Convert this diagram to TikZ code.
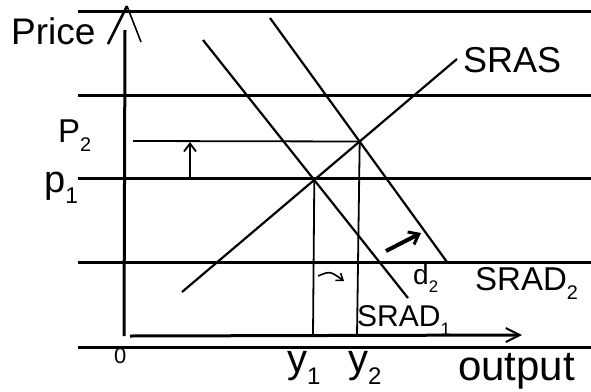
\documentclass[tikz,border=0pt]{standalone}
\usepackage{fontspec}
\setmainfont{Liberation Sans}
\usetikzlibrary{arrows.meta}
\newcommand{\lowsub}[1]{\raisebox{-0.3em}{\scalebox{0.6}{#1}}}
\newcommand{\bigtxt}[2]{\scalebox{#1}{\fontsize{10}{12}\selectfont #2}}
\tikzset{
  ruled/.style={line width=3pt},
  axisline/.style={line width=3pt},
  curve/.style={line width=2.2pt},
  guide/.style={line width=1.8pt},
  lbl/.style={inner sep=0pt, anchor=base west},
  barb/.style={-{Straight Barb[length=8pt,width=12pt,line width=1.8pt]}},
}
\begin{document}
\begin{tikzpicture}[x=1pt,y=-1pt]
\useasboundingbox (0,0) rectangle (591,391);
\fill[white] (0,0) rectangle (591,391);
% ruled lines of the paper
\foreach \yy [count=\i] in {11,95,178,262,347}{
  \coordinate (rl\i) at (78,\yy);
  \coordinate (rr\i) at (591,\yy);
  \draw[ruled] (rl\i) -- (rr\i);
}
% axes
\coordinate (O) at (124,336);
\coordinate (ytop) at (125,30);
\coordinate (yapex) at (127,6);
\coordinate (yl) at (108,44);
\coordinate (yr) at (141,42);
\coordinate (xs) at (130,336);
\coordinate (xend) at (522,335);
\draw[axisline] (O) -- (ytop);
\draw[line width=2.6pt] (yl) -- (yapex);
\draw[line width=1.6pt] (yapex) -- (yr);
\draw[axisline, -{Straight Barb[length=14pt,width=14pt,line width=2pt]}] (xs) -- (xend);
% curves
\coordinate (sA) at (182,292);
\coordinate (sB) at (457,59);
\coordinate (d1a) at (203,40);
\coordinate (d1b) at (408,298);
\coordinate (d2a) at (270,18);
\coordinate (d2b) at (447,262);
\coordinate (E1) at (314.3,179.9);
\coordinate (E2) at (359.7,141.5);
\coordinate (p2l) at (133,141);
\coordinate (y1b) at (313,336);
\coordinate (y2b) at (357,336);
\draw[curve] (sA) -- (sB);
\draw[curve] (d1a) -- (d1b);
\draw[curve] (d2a) -- (d2b);
\draw[guide] (p2l) -- (E2);
\draw[guide] (E1) -- (y1b);
\draw[guide] (E2) -- (y2b);
% arrows
\coordinate (ua) at (190,178);
\coordinate (ub) at (190,142);
\draw[guide, barb] (ua) -- (ub);
\coordinate (sa) at (318,276);
\coordinate (sb) at (344,281);
\draw[line width=1.6pt, -{Straight Barb[length=6pt,width=9pt,line width=1.6pt]}] (sa) .. controls (330,271) .. (sb);
\coordinate (ba) at (386,251);
\coordinate (bb) at (421,233);
\draw[line width=4pt, -{Straight Barb[length=9pt,width=14pt,line width=3pt]}] (ba) -- (bb);
% labels
\node[lbl] (price) at (11,44) {\bigtxt{3.7}{Price}};
\node[lbl] (sras) at (463,72) {\bigtxt{3.6}{SRAS}};
\node[lbl] (srad1) at (357,326) {\bigtxt{3.0}{SRAD\lowsub{1}}};
\node[lbl] (srad2) at (475,290) {\bigtxt{3.3}{SRAD\lowsub{2}}};
\node[lbl] (dtwo) at (413,284) {\bigtxt{2.8}{d\lowsub{2}}};
\node[lbl] (ptwo) at (58,142) {\bigtxt{3.3}{P\lowsub{2}}};
\node[lbl] (pone) at (44,192) {\bigtxt{3.8}{p\lowsub{1}}};
\node[lbl] (zero) at (114,363) {\bigtxt{2.2}{0}};
\node[lbl] (yone) at (287,372) {\bigtxt{4.0}{y\lowsub{1}}};
\node[lbl] (ytwo) at (348,372) {\bigtxt{4.0}{y\lowsub{2}}};
\node[lbl] (output) at (458,380) {\bigtxt{4.2}{output}};
\end{tikzpicture}
\end{document}
